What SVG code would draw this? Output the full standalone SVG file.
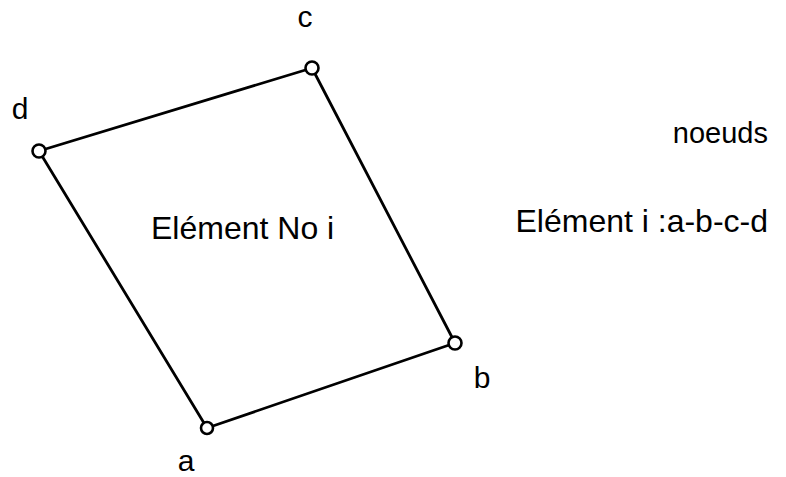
<svg xmlns="http://www.w3.org/2000/svg" width="786" height="477" viewBox="0 0 786 477">
<style>
text{font-family:"Liberation Sans",Arial,sans-serif;fill:#000}
.lbl{font-size:30px}
.big{font-size:32px}
.edge{stroke:#000;stroke-width:2.8;fill:none;stroke-linecap:round}
.node{fill:#fff;stroke:#000;stroke-width:2.6}
</style>
<rect width="786" height="477" fill="#fff"/>
<g id="connectors">
<line class="edge" x1="207" y1="428" x2="455" y2="343"/>
<line class="edge" x1="455" y1="343" x2="312" y2="68"/>
<line class="edge" x1="312" y1="68" x2="39" y2="151"/>
<line class="edge" x1="39" y1="151" x2="207" y2="428"/>
</g>
<g id="node-a"><circle class="node" cx="207" cy="428" r="6"/><text class="lbl" x="186" y="471" text-anchor="middle">a</text></g>
<g id="node-b"><circle class="node" cx="455" cy="343" r="6.5"/><text class="lbl" x="482" y="388" text-anchor="middle">b</text></g>
<g id="node-c"><circle class="node" cx="312" cy="68" r="6.5"/><text class="lbl" x="305" y="27" text-anchor="middle">c</text></g>
<g id="node-d"><circle class="node" cx="39" cy="151" r="6.5"/><text class="lbl" x="20" y="119" text-anchor="middle">d</text></g>
<g id="labels">
<text class="big" x="151" y="239">Elément No i</text>
<text class="big" x="768" y="143" text-anchor="end" style="font-size:29px">noeuds</text>
<text class="big" x="768" y="232" text-anchor="end">Elément i :a-b-c-d</text>
</g>
</svg>
